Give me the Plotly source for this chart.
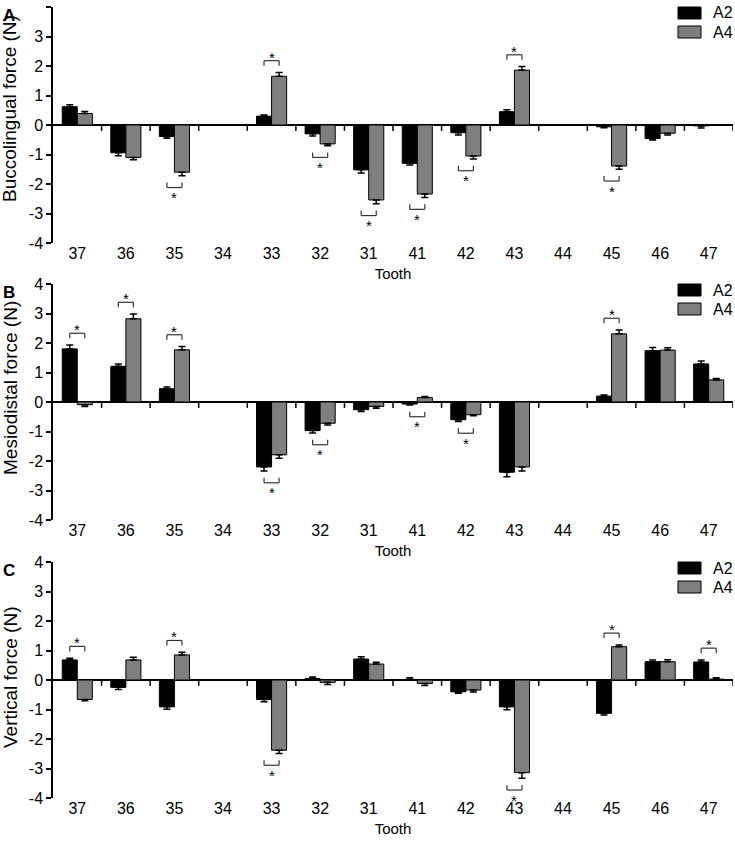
import plotly.graph_objects as go

# ---------------- data ----------------
teeth = ["37", "36", "35", "34", "33", "32", "31", "41", "42", "43", "44", "45", "46", "47"]
series_names = ["A2", "A4"]

# Panel A: buccolingual force (N)
bl_a2 = [0.62, -0.94, -0.39, None, 0.30, -0.30, -1.52, -1.30, -0.26, 0.45, None, -0.06, -0.46, -0.03]
bl_a2_se = [0.07, 0.10, 0.06, 0, 0.04, 0.07, 0.11, 0.06, 0.08, 0.07, 0, 0.03, 0.05, 0.07]
bl_a4 = [0.39, -1.10, -1.60, None, 1.65, -0.64, -2.54, -2.34, -1.05, 1.86, None, -1.39, -0.28, 0.0]
bl_a4_se = [0.07, 0.08, 0.12, 0, 0.13, 0.06, 0.13, 0.12, 0.10, 0.12, 0, 0.11, 0.06, 0.0]
bl_sig = [("33", "up"), ("43", "up"), ("35", "down"), ("32", "down"), ("31", "down"),
          ("41", "down"), ("42", "down"), ("45", "down")]

# Panel B: mesiodistal force (N)
md_a2 = [1.80, 1.21, 0.45, None, -2.20, -0.97, -0.26, -0.07, -0.60, -2.38, None, 0.20, 1.74, 1.29]
md_a2_se = [0.13, 0.08, 0.06, 0, 0.14, 0.08, 0.06, 0.03, 0.06, 0.15, 0, 0.04, 0.11, 0.10]
md_a4 = [-0.09, 2.82, 1.77, None, -1.79, -0.72, -0.15, 0.15, -0.43, -2.20, None, 2.31, 1.76, 0.75]
md_a4_se = [0.06, 0.16, 0.11, 0, 0.12, 0.06, 0.06, 0.04, 0.04, 0.14, 0, 0.13, 0.08, 0.05]
md_sig = [("37", "up"), ("36", "up"), ("35", "up"), ("45", "up"), ("33", "down"),
          ("32", "down"), ("41", "down"), ("42", "down")]

# Panel C: vertical force (N)
vt_a2 = [0.68, -0.25, -0.91, None, -0.66, 0.05, 0.71, 0.02, -0.40, -0.91, None, -1.13, 0.62, 0.61]
vt_a2_se = [0.06, 0.07, 0.08, 0, 0.08, 0.05, 0.08, 0.06, 0.05, 0.10, 0, 0.06, 0.06, 0.07]
vt_a4 = [-0.66, 0.68, 0.85, None, -2.38, -0.08, 0.54, -0.12, -0.34, -3.14, None, 1.13, 0.62, 0.03]
vt_a4_se = [0.04, 0.09, 0.09, 0, 0.11, 0.07, 0.06, 0.07, 0.07, 0.19, 0, 0.06, 0.07, 0.05]
vt_sig = [("37", "up"), ("35", "up"), ("45", "up"), ("47", "up"), ("33", "down"), ("43", "down")]

y_ticks = [-4, -3, -2, -1, 0, 1, 2, 3, 4]
panel_titles = ["Buccolingual force (N)", "Mesiodistal force (N)", "Vertical force (N)"]
panel_letters = ["A", "B", "C"]
x_title = "Tooth"

# ---------------- layout geometry (pixels) ----------------
W, H = 735, 843
PLOT_L, PLOT_R = 53, 733
PLOT_T, PLOT_B = 7, 798
ML, MR, MT, MB = PLOT_L, W - PLOT_R, PLOT_T, H - PLOT_B
PW, PH = W - ML - MR, H - MT - MB
panel_spans = [(7, 243), (284, 520), (562, 798)]
ytitle_centers = [109, 388, 678]

FONT = "Liberation Sans, Arial, sans-serif"
C_A2 = "#000000"
C_A4 = "#7f7f7f"
BARGAP = 0.38


def px_x(px):
    return (px - ML) / PW


def px_y(py):
    return (H - MB - py) / PH


panels = [
    (bl_a2, bl_a2_se, bl_a4, bl_a4_se, bl_sig),
    (md_a2, md_a2_se, md_a4, md_a4_se, md_sig),
    (vt_a2, vt_a2_se, vt_a4, vt_a4_se, vt_sig),
]
series_colors = [C_A2, C_A4]

fig = go.Figure()
shapes = []
annotations = []
layout_axes = {}

for k, (a2, a2se, a4, a4se, sig) in enumerate(panels):
    sfx = "" if k == 0 else str(k + 1)
    xa, ya = "x" + sfx, "y" + sfx
    for name, vals, se, col in [("A2", a2, a2se, C_A2), ("A4", a4, a4se, C_A4)]:
        plus = [e if (v is not None and v > 0) else 0 for v, e in zip(vals, se)]
        minus = [e if (v is not None and v < 0) else 0 for v, e in zip(vals, se)]
        fig.add_trace(go.Bar(
            x=teeth, y=vals, name=name,
            marker=dict(color=col, line=dict(color="black", width=1)),
            error_y=dict(type="data", symmetric=False, array=plus, arrayminus=minus,
                         color="black", thickness=1.5, width=3.5),
            xaxis=xa, yaxis=ya, showlegend=False,
        ))

    top_px, bot_px = panel_spans[k]
    dom = [px_y(bot_px), px_y(top_px)]
    layout_axes["xaxis" + sfx] = dict(
        type="category", categoryorder="array", categoryarray=teeth,
        range=[-0.5, len(teeth) - 0.5], anchor=ya, domain=[0, 1],
        showline=False, ticks="", showgrid=False, zeroline=False,
        ticklabelstandoff=-1,
        tickfont=dict(size=16, color="black", family=FONT),
        title=dict(text=x_title, font=dict(size=15, color="black", family=FONT), standoff=7),
        automargin=False, fixedrange=True,
    )
    layout_axes["yaxis" + sfx] = dict(
        range=[-4, 4], domain=dom, anchor=xa, tickmode="array", tickvals=y_ticks,
        ticktext=[str(t) for t in y_ticks],
        ticks="outside", ticklen=5, tickwidth=1.5, tickcolor="black",
        showline=True, linecolor="black", linewidth=1.5, mirror=False,
        zeroline=True, zerolinecolor="black", zerolinewidth=1.5, showgrid=False,
        tickfont=dict(size=16, color="black", family=FONT), automargin=False,
    )

    # boundary tick marks on the zero line
    for b in range(len(teeth)):
        shapes.append(dict(type="line", xref=xa, yref=ya, x0=b + 0.5, x1=b + 0.5, y0=0, y1=-0.2,
                           line=dict(color="black", width=1.5)))

    # significance brackets computed from the bar/error values
    off = (1 - BARGAP) / 4
    for tooth, direction in sig:
        i = teeth.index(tooth)
        ends = []
        for vals, se in [(a2, a2se), (a4, a4se)]:
            v = vals[i]
            if direction == "up":
                ends.append(max(0, v + (se[i] if v > 0 else 0)))
            else:
                ends.append(min(0, v - (se[i] if v < 0 else 0)))
        if direction == "up":
            yl = max(ends) + 0.4
            yleg = yl - 0.17
            ya_t = yl + 0.24
        else:
            yl = min(ends) - 0.4
            yleg = yl + 0.17
            ya_t = yl - 0.22
        xl, xr = i - off, i + off
        for (x0, y0, x1, y1) in [(xl, yleg, xl, yl), (xl, yl, xr, yl), (xr, yl, xr, yleg)]:
            shapes.append(dict(type="line", xref=xa, yref=ya, x0=x0, x1=x1, y0=y0, y1=y1,
                               line=dict(color="#333333", width=1.2)))
        annotations.append(dict(text="*", x=i, y=ya_t, xref=xa, yref=ya, showarrow=False,
                                xanchor="center", yanchor="middle", height=10, valign="top",
                                borderpad=0,
                                font=dict(size=15, color="black", family=FONT)))

    # legend (boxes + labels) at the top right of each panel
    for j, (name, col) in enumerate(zip(series_names, series_colors)):
        by0 = top_px + j * 19
        shapes.append(dict(type="rect", xref="paper", yref="paper",
                           x0=px_x(678), x1=px_x(701), y0=px_y(by0 + 12), y1=px_y(by0),
                           fillcolor=col, line=dict(color="black", width=1)))
        annotations.append(dict(text=name, xref="paper", yref="paper", x=px_x(711), y=px_y(by0 + 6),
                                xanchor="left", yanchor="middle", showarrow=False,
                                font=dict(size=16, color="black", family=FONT)))

    # y-axis title and panel letter
    annotations.append(dict(text=panel_titles[k], textangle=-90, xref="paper", yref="paper",
                            x=px_x(10), y=px_y(ytitle_centers[k]), xanchor="center", yanchor="middle",
                            showarrow=False, font=dict(size=19, color="black", family=FONT)))
    annotations.append(dict(text="<b>" + panel_letters[k] + "</b>", xref="paper", yref="paper",
                            x=px_x(1), y=px_y(max(top_px - 3, 0)), xanchor="left", yanchor="top",
                            showarrow=False, font=dict(size=17, color="black", family=FONT)))

fig.update_layout(
    width=W, height=H, margin=dict(l=ML, r=MR, t=MT, b=MB, pad=0),
    paper_bgcolor="white", plot_bgcolor="white",
    barmode="group", bargap=BARGAP, bargroupgap=0,
    font=dict(family=FONT, color="black"), showlegend=False,
    shapes=shapes, annotations=annotations,
    **layout_axes,
)

# remove the browser's default page margin so the figure sits at the window's top-left corner
fig.write_html("out.html", config={"displayModeBar": False},
               post_script="document.body.style.margin='0px';document.body.style.overflow='hidden';")
